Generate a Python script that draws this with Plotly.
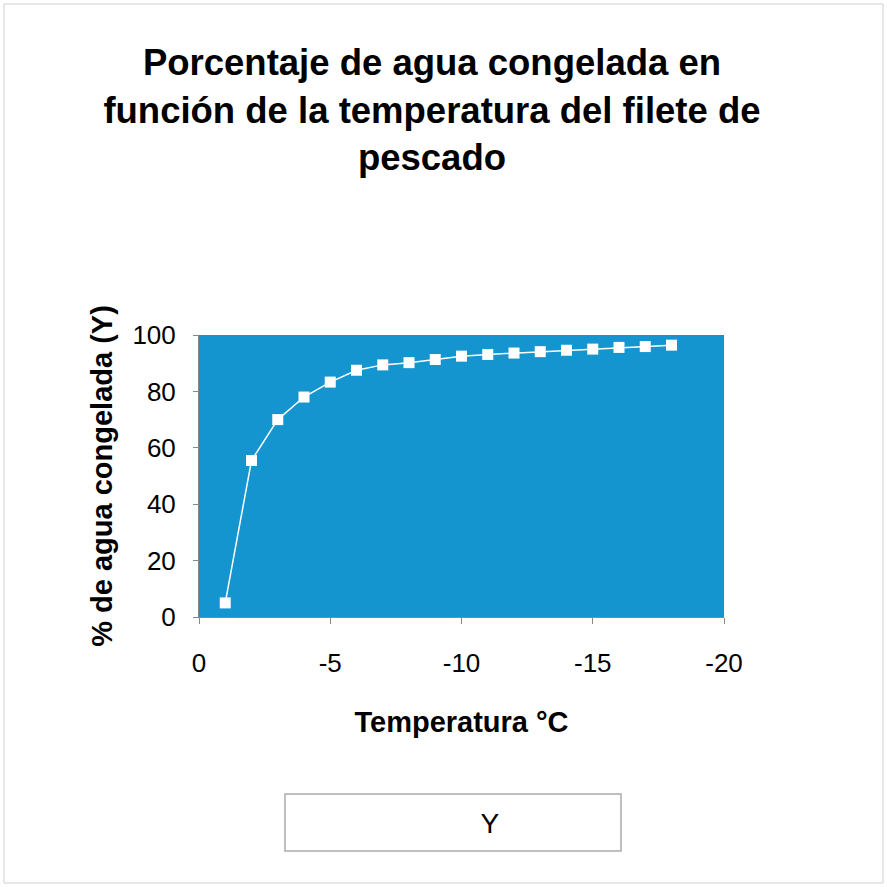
import plotly.graph_objects as go

# ---- data ----
temperatura = [-1, -2, -3, -4, -5, -6, -7, -8, -9, -10, -11, -12, -13, -14, -15, -16, -17, -18]
agua_congelada = [5, 55.5, 70, 78, 83.3, 87.5, 89.4, 90.2, 91.3, 92.5, 93.1, 93.6, 94.1, 94.6, 95, 95.6, 95.9, 96.4]
x_ticks = [0, -5, -10, -15, -20]
x_tick_text = ["0", "-5", "-10", "-15", "-20"]
y_ticks = [0, 20, 40, 60, 80, 100]
y_tick_text = ["0", "20", "40", "60", "80", "100"]
series_name = "Y"
title_text = "Porcentaje de agua congelada en<br>función de la temperatura del filete de<br>pescado"

FONT = "Liberation Sans, Arial, sans-serif"

fig = go.Figure()
fig.add_trace(go.Scatter(
    x=temperatura, y=agua_congelada, name=series_name,
    mode="lines+markers",
    line=dict(color="white", width=1.5),
    marker=dict(symbol="square", size=11, color="white",
                line=dict(color="white", width=0)),
    showlegend=True,
))

fig.update_layout(
    width=887, height=887,
    paper_bgcolor="white",
    plot_bgcolor="#1495d0",
    margin=dict(l=199, r=163, t=335, b=270, autoexpand=False),
    title=dict(text=f"<b>{title_text}</b>", x=0.487, xanchor="center",
               y=0.915, yanchor="top", yref="container",
               font=dict(family=FONT, size=36.5, color="black")),
    font=dict(family=FONT, color="black"),
    xaxis=dict(range=[0, -20], tickvals=x_ticks, ticktext=x_tick_text,
               showgrid=False, zeroline=False,
               showline=True, linecolor="#888888", linewidth=1,
               ticks="outside", ticklen=6, tickcolor="#888888",
               ticklabelstandoff=17,
               tickfont=dict(family=FONT, size=26, color="black"),
               title=dict(text="<b>Temperatura °C</b>", standoff=34,
                          font=dict(family=FONT, size=29, color="black"))),
    yaxis=dict(range=[0, 100], tickvals=y_ticks, ticktext=y_tick_text,
               showgrid=False, zeroline=False,
               showline=True, linecolor="#888888", linewidth=1,
               ticks="outside", ticklen=5, tickcolor="#888888",
               ticklabelstandoff=12,
               tickfont=dict(family=FONT, size=26, color="black"),
               title=dict(text="<b>% de agua congelada (Y)</b>", standoff=11,
                          font=dict(family=FONT, size=29, color="black"))),
    legend=dict(x=0.46, xanchor="left", y=-0.73, yanchor="middle",
                bgcolor="rgba(0,0,0,0)", borderwidth=0,
                font=dict(family=FONT, size=28, color="black")),
    shapes=[
        dict(type="rect", xref="paper", yref="paper",
             x0=(285 - 199) / 525, x1=(621 - 199) / 525,
             y0=(617 - 851) / 282, y1=(617 - 794) / 282,
             line=dict(color="#aaaaaa", width=1.5), fillcolor="rgba(0,0,0,0)"),
        dict(type="rect", xref="paper", yref="paper",
             x0=(4 - 199) / 525, x1=(883 - 199) / 525,
             y0=(617 - 883) / 282, y1=(617 - 4) / 282,
             line=dict(color="#d0d0d0", width=1), fillcolor="rgba(0,0,0,0)"),
    ],
)

fig.write_html("out.html")
